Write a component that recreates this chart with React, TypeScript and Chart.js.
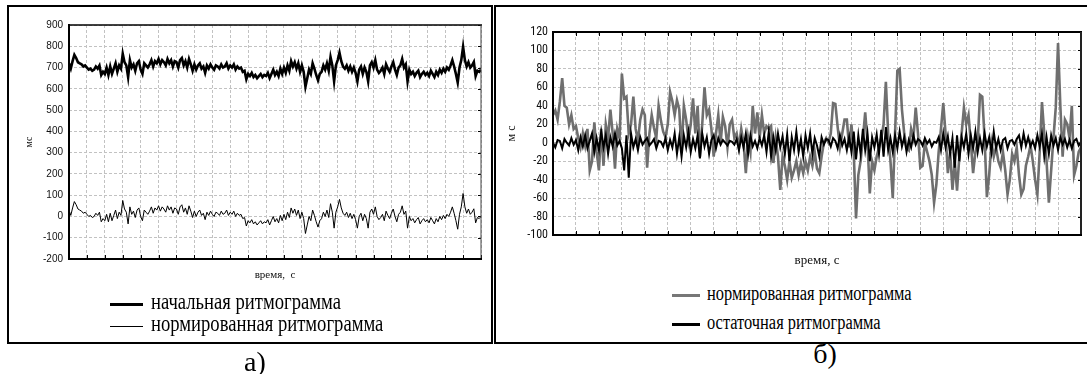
import React, { useEffect, useRef } from "react";
import { Chart, registerables } from "chart.js";

Chart.register(...registerables);

// ---------- Panel а: initial and normalized rhythmogram (ms) ----------
const initialA = [
  720, 695, 730, 760, 745, 725, 720, 715, 705, 710,
  700, 690, 695, 685, 690, 705, 695, 710, 665, 680,
  670, 700, 665, 705, 670, 695, 720, 680, 710, 695,
  765, 725, 710, 655, 735, 700, 715, 685, 720, 730,
  690, 670, 720, 710, 700, 715, 735, 705, 730, 720,
  740, 715, 735, 725, 710, 740, 720, 735, 705, 730,
  725, 700, 735, 745, 710, 730, 700, 740, 715, 685,
  715, 690, 710, 720, 695, 705, 675, 710, 695, 715,
  700, 690, 710, 705, 695, 715, 700, 705, 720, 695,
  710, 700, 715, 690, 705, 695, 700, 680, 685, 645,
  670, 660, 675, 655, 665, 650, 660, 670, 655, 665,
  660, 675, 650, 670, 690, 665, 680, 660, 695, 670,
  700, 675, 710, 685, 730, 705, 725, 695, 720, 680,
  710, 680, 610, 650, 690, 670, 720, 695, 665, 640,
  670, 680, 710, 690, 720, 685, 750, 710, 635, 710,
  735, 770, 730, 705, 695, 710, 685, 705, 680, 700,
  675, 635, 690, 705, 670, 700, 680, 635, 710, 725,
  700, 735, 690, 675, 685, 700, 670, 715, 695, 680,
  705, 725, 690, 665, 700, 710, 740, 700, 715, 635,
  690, 670, 680, 660, 675, 685, 655, 670, 680, 665,
  675, 660, 685, 670, 655, 680, 665, 690, 675, 695,
  680, 700, 690, 710, 735, 705, 670, 630, 700, 735,
  798, 735, 705, 725, 700, 710, 726, 660, 685, 680, 690,
];

const normA = [
  30, 5, 40, 70, 55, 35, 30, 25, 15, 20,
  10, 0, 5, -5, 0, 15, 5, 20, -25, -10,
  -20, 10, -25, 15, -20, 5, 30, -10, 20, 5,
  75, 35, 20, -35, 45, 10, 25, -5, 30, 40,
  0, -20, 30, 20, 10, 25, 45, 15, 40, 30,
  50, 25, 45, 35, 20, 50, 30, 45, 15, 40,
  35, 10, 45, 55, 20, 40, 10, 50, 25, -5,
  25, 0, 20, 30, 5, 15, -15, 20, 5, 25,
  10, 0, 20, 15, 5, 25, 10, 15, 30, 5,
  20, 10, 25, 0, 15, 5, 10, -10, -5, -45,
  -20, -30, -15, -35, -25, -40, -30, -20, -35, -25,
  -30, -15, -40, -20, 0, -25, -10, -30, 5, -20,
  10, -15, 20, -5, 40, 15, 35, 5, 30, -10,
  20, -10, -80, -40, 0, -20, 30, 5, -25, -50,
  -20, -10, 20, 0, 30, -5, 60, 20, -55, 20,
  45, 80, 40, 15, 5, 20, -5, 15, -10, 10,
  -15, -55, 0, 15, -20, 10, -10, -55, 20, 35,
  10, 45, 0, -15, -5, 10, -20, 25, 5, -10,
  15, 35, 0, -25, 10, 20, 50, 10, 25, -55,
  0, -20, -10, -30, -15, -5, -35, -20, -10, -25,
  -15, -30, -5, -20, -35, -10, -25, 0, -15, 5,
  -10, 10, 0, 20, 45, 15, -20, -60, 10, 45,
  108, 45, 15, 35, 10, 20, 36, -30, -5, -10, 0,
];

// ---------- Panel б: normalized and residual rhythmogram (ms) ----------
const normB = [
  30, 35, 25, 45, 70, 40, 38, 20, 30, 15,
  18, 5, -5, 10, -3, 15, -30, -20, 22, -10,
  -30, 15, -25, 20, 5, 36, 10, -28, 15, 5,
  75, 48, 50, 10, 20, 50, 15, 2, 25, 36,
  30, -27, 10, 30, 16, 5, 40, 24, 12, 6,
  20, 55, 45, 30, 46, 36, -10, 40, 25, 3,
  20, 48, 10, 40, -15, 20, 60, 30, 36, 15,
  -15, 10, 30, 0, 28, 18, -5, 20, 25, 5,
  10, -5, 15, 0, -33, 5, -10, 40, 10, 33,
  5, 30, 10, 18, 15, 18, -22, 5, -15, -51,
  -15, -25, -40, -20, -38, -30, -20, -35, -22, -33,
  -20, -30, -15, -25, -10, -28, -33, -15, 0, 5,
  0, 10, 43, 42, 17, -5, 10, 25, 25, -5,
  20, -10, -82, -35, -20, 5, 33, 0, -55, -20,
  -30, -15, -5, 5, 20, 66, 10, -20, -60, 10,
  78, 80, 36, 10, -5, -8, 15, 5, 38, 10,
  -27, -25, 0, -10, -20, -35, -65, -45, -10, 15,
  43, 10, -33, -10, -51, -20, -52, -15, 10, 38,
  20, 30, 0, -33, -10, 0, 52, 50, 5, -59,
  -35, 0, -15, -5, -20, -27, -10, -30, -56, -40,
  -12, -20, -5, -35, -56, -50, -25, -15, -3, -20,
  -40, -56, -10, 44, 10, -20, -65, -30, 5, 38,
  108, 40, -15, 25, 20, 5, 40, -35, -25, -10, -5,
];

const residB = [
  0, -5, 3, 2, -6, 4, 0, -3, 5, -2,
  3, -8, 6, -4, 8, -6, 2, 10, -10, 5,
  -8, 12, -5, 8, -12, 6, -4, 10, -3, 2,
  -6, -30, 8, -38, 10, -5, 4, -8, 6, -2,
  2, 5, -3, 0, 4, -6, 2, 1, -4, 5,
  -8, 3, -5, 10, -12, 6, -15, 8, -5, 12,
  -10, 4, -6, 8, -17, 10, -4, 6, -12, 3,
  8, -6, 5, -2, 3, 0, -3, 2, 1, -2,
  4, -8, 6, -5, 10, -12, 8, -4, 2, -6,
  5, -3, 8, -10, 12, -15, 6, -8, 10, -5,
  7, -12, 9, -20, 6, -8, 12, -10, 4, -15,
  8, -6, 10, -12, 5, -3, -15, 6, -2, 4,
  3, -4, 5, 2, -6, 8, -3, 4, -8, 6,
  -10, 12, -18, 8, -12, 15, -8, 10, -20, 6,
  -5, 9, -12, 14, -15, 17, -8, 5, -10, 8,
  -6, 12, -4, 6, -10, 3, -5, 8, -2, 4,
  2, -3, 5, -1, 3, -4, 1, 0, 6, -8,
  10, -5, 7, -12, 5, -27, 8, -20, 6, -5,
  10, -12, 8, -6, 12, -10, 5, -8, 10, -4,
  6, -10, 12, -6, 4, -8, 3, 5, -6, 2,
  3, -2, 4, 8, -5, 10, -3, 6, -4, 2,
  -6, 8, -4, 10, -15, 6, -12, 8, -3, 5,
  -8, 6, -2, 4, -5, 3, -6, 2, 4, -3, 1,
];

// time index (sample number) used as x
const timeA = initialA.map((_, i) => i);
const timeB = normB.map((_, i) => i);

const yMinA = -200, yMaxA = 900, yStepA = 100;
const yMinB = -100, yMaxB = 120, yStepB = 20;
const xStep = 10;

const legendA = ["начальная ритмограмма", "нормированная ритмограмма"];
const legendB = ["нормированная ритмограмма", "остаточная ритмограмма"];

const SERIF = "'Liberation Serif', 'Times New Roman', serif";
const SANS = "'Liberation Sans', Arial, sans-serif";
const NARROW = "'Roboto Condensed', 'Liberation Sans', sans-serif";

const framePlugin = {
  id: "frame",
  afterDraw(chart: any, _args: any, opts: any) {
    const { ctx, chartArea } = chart;
    const { left, top, right, bottom } = chartArea;
    const xs = chart.scales.x;
    const ys = chart.scales.y;
    const L = opts.len || 4;
    ctx.save();
    ctx.strokeStyle = "#000";
    ctx.lineWidth = 1;
    ctx.beginPath();
    xs.ticks.forEach((t: any) => {
      const px = Math.round(xs.getPixelForValue(t.value)) + 0.5;
      if (opts.bottom) { ctx.moveTo(px, bottom); ctx.lineTo(px, bottom - L); }
      if (opts.top) { ctx.moveTo(px, top); ctx.lineTo(px, top + L); }
    });
    ys.ticks.forEach((t: any) => {
      const py = Math.round(ys.getPixelForValue(t.value)) + 0.5;
      if (opts.right) { ctx.moveTo(right, py); ctx.lineTo(right - 3, py); }
    });
    ctx.stroke();
    const seg = (x1: number, y1: number, x2: number, y2: number, w: number, c: string) => {
      ctx.beginPath();
      ctx.lineWidth = w;
      ctx.strokeStyle = c;
      ctx.moveTo(x1, y1);
      ctx.lineTo(x2, y2);
      ctx.stroke();
    };
    seg(left, top, right + 1, top, opts.wTop, "#000");
    seg(right, top, right, bottom, opts.wRight, opts.cRight || "#000");
    seg(left - 1, bottom, right + 1, bottom, opts.wBottom, "#000");
    seg(left, top - 1, left, bottom + 1, opts.wLeft, "#000");
    ctx.restore();
  },
};

function ChartCanvas({ config, style, w, h }: any) {
  const ref = useRef<HTMLCanvasElement | null>(null);
  useEffect(() => {
    if (!ref.current) return;
    const chart = new Chart(ref.current, config);
    return () => chart.destroy();
  }, []);
  return <canvas ref={ref} width={w} height={h} style={{ position: "absolute", ...style, width: w, height: h }} />;
}

const gridOpts = { color: "#c2c2c2", lineWidth: 1, drawTicks: false };

const configA: any = {
  type: "line",
  data: {
    labels: timeA,
    datasets: [
      { data: initialA, borderColor: "#000", borderWidth: 2.6, pointRadius: 0, tension: 0, fill: false },
      { data: normA, borderColor: "#000", borderWidth: 1, pointRadius: 0, tension: 0, fill: false },
    ],
  },
  options: {
    responsive: false,
    animation: false,
    devicePixelRatio: 1,
    layout: { padding: { left: 0, top: 18, right: 10, bottom: 0 } },
    plugins: {
      legend: { display: false },
      tooltip: { enabled: false },
      frame: { bottom: true, top: false, right: true, len: 4, wTop: 1.5, wRight: 1, cRight: "#444", wBottom: 2, wLeft: 2 },
    },
    scales: {
      x: {
        type: "linear",
        min: timeA[0],
        max: timeA[timeA.length - 1],
        ticks: { stepSize: xStep, display: false },
        grid: gridOpts,
        border: { display: false, dash: [3, 2] },
        title: { display: true, text: "время,  с", color: "#111", font: { family: SERIF, size: 11 }, padding: { top: 0, bottom: 15 } },
        afterFit: (s: any) => { s.height = 38; },
      },
      y: {
        min: yMinA,
        max: yMaxA,
        ticks: { stepSize: yStepA, padding: 6, color: "#111", font: { family: SANS, size: 10 } },
        grid: gridOpts,
        border: { display: false, dash: [3, 2] },
        title: { display: true, text: "мс", color: "#111", font: { family: SERIF, size: 10 }, padding: { top: 14, bottom: 0 } },
        afterFit: (s: any) => { s.width = 60; },
      },
    },
  },
  plugins: [framePlugin],
};

const configB: any = {
  type: "line",
  data: {
    labels: timeB,
    datasets: [
      { data: residB, borderColor: "#000", borderWidth: 2, pointRadius: 0, tension: 0, fill: false },
      { data: normB, borderColor: "#6f6f6f", borderWidth: 2.6, pointRadius: 0, tension: 0, fill: false },
    ],
  },
  options: {
    responsive: false,
    animation: false,
    devicePixelRatio: 1,
    layout: { padding: { left: 0, top: 25, right: 4, bottom: 0 } },
    plugins: {
      legend: { display: false },
      tooltip: { enabled: false },
      frame: { bottom: true, top: true, right: true, len: 4, wTop: 2, wRight: 2, cRight: "#222", wBottom: 2, wLeft: 2 },
    },
    scales: {
      x: {
        type: "linear",
        min: timeB[0],
        max: timeB[timeB.length - 1],
        ticks: { stepSize: xStep, display: false },
        grid: gridOpts,
        border: { display: false, dash: [3, 2] },
        title: { display: true, text: "время, с", color: "#111", font: { family: SERIF, size: 13 }, padding: { top: 0, bottom: 9 } },
        afterFit: (s: any) => { s.height = 42; },
      },
      y: {
        min: yMinB,
        max: yMaxB,
        ticks: { stepSize: yStepB, padding: 5, color: "#111", font: { family: NARROW, size: 12 } },
        grid: gridOpts,
        border: { display: false, dash: [3, 2] },
        title: { display: true, text: "м с", color: "#111", font: { family: SERIF, size: 12 }, padding: { top: 9, bottom: 0 } },
        afterFit: (s: any) => { s.width = 57; },
      },
    },
  },
  plugins: [framePlugin],
};

function LegendRow({ x, y, lineW, thick, color, text, textX, size, scaleX }: any) {
  const lh = Math.ceil(size * 1.2);
  const baselineFromTop = (lh - 1.107 * size) / 2 + 0.891 * size;
  const top = y - (baselineFromTop - 0.23 * size);
  return (
    <>
      <div style={{ position: "absolute", left: x, top: y - thick / 2, width: lineW, height: thick, background: color }} />
      <div
        style={{
          position: "absolute",
          left: textX,
          top,
          fontFamily: SERIF,
          fontSize: size,
          lineHeight: `${lh}px`,
          whiteSpace: "nowrap",
          color: "#000",
          transform: `scaleX(${scaleX})`,
          transformOrigin: "left center",
        }}
      >
        {text}
      </div>
    </>
  );
}

export default function App() {
  return (
    <div style={{ position: "absolute", left: 0, top: 0, width: 1087, height: 374, background: "#fff", overflow: "hidden" }}>
      <div style={{ position: "absolute", left: 7, top: 5, width: 486, height: 339, border: "2px solid #000", boxSizing: "border-box" }} />
      <div style={{ position: "absolute", left: 494, top: 5, width: 600, height: 339, border: "2px solid #000", boxSizing: "border-box" }} />
      <ChartCanvas config={configA} w={482} h={290} style={{ left: 9, top: 7 }} />
      <ChartCanvas config={configB} w={589} h={270} style={{ left: 496, top: 7 }} />
      <LegendRow x={110} y={304} lineW={33} thick={3} color="#000" text={legendA[0]} textX={151} size={24} scaleX={0.776} />
      <LegendRow x={110} y={326} lineW={33} thick={1} color="#000" text={legendA[1]} textX={151} size={24} scaleX={0.776} />
      <LegendRow x={672} y={295} lineW={28} thick={3} color="#777" text={legendB[0]} textX={707} size={20} scaleX={0.82} />
      <LegendRow x={672} y={324} lineW={28} thick={3} color="#000" text={legendB[1]} textX={707} size={20} scaleX={0.82} />
      <div style={{ position: "absolute", left: 205, top: 346, width: 100, textAlign: "center", fontFamily: SERIF, fontSize: 28, lineHeight: "32px" }}>а)</div>
      <div style={{ position: "absolute", left: 775, top: 338, width: 100, textAlign: "center", fontFamily: SERIF, fontSize: 28, lineHeight: "32px" }}>б)</div>
    </div>
  );
}
